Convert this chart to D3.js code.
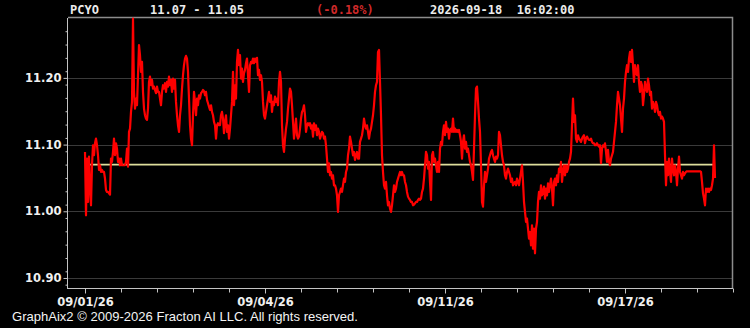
<!DOCTYPE html>
<html>
<head>
<meta charset="utf-8">
<script src="https://cdn.jsdelivr.net/npm/d3@7"></script>
<style>
  html, body { margin: 0; padding: 0; background: #000; }
  svg { display: block; }
</style>
</head>
<body>
<svg id="chart" width="750" height="328"></svg>
<script>
// quote header
const symbol = "PCYO";
const openPrice = 11.07;
const lastPrice = 11.05;
const changeText = "(-0.18%)";
const stampText = "2026-09-18  16:02:00";
const footerText = "GraphAix2 \u00A9 2009-2026 Fracton AI LLC. All rights reserved.";

// axes
const yTicks = [10.90, 11.00, 11.10, 11.20];
const dateLabels = ["09/01/26", "09/04/26", "09/11/26", "09/17/26"];
const dateTickSlots = [0, 5, 10, 15];
const slotCount = 18;
const samplesPerSlot = 36;

// price samples
const prices = [
  11.089,10.994,11.079,11.014,11.082,11.034,11.009,11.069,11.099,11.084,
  11.102,11.109,11.099,11.084,11.062,11.069,11.059,11.062,11.059,11.059,
  11.049,11.032,11.029,11.029,11.027,11.025,11.079,11.074,11.089,11.109,
  11.084,11.102,11.094,11.074,11.079,11.069,11.079,11.069,11.069,11.069,
  11.069,11.074,11.094,11.067,11.119,11.124,11.149,11.164,11.289,11.179,
  11.154,11.169,11.159,11.204,11.249,11.234,11.209,11.224,11.179,11.154,
  11.144,11.139,11.137,11.154,11.194,11.202,11.189,11.197,11.184,11.187,
  11.182,11.177,11.187,11.179,11.179,11.169,11.159,11.179,11.189,11.184,
  11.192,11.179,11.194,11.187,11.202,11.189,11.197,11.179,11.199,11.184,
  11.197,11.164,11.144,11.129,11.119,11.144,11.159,11.184,11.204,11.219,
  11.229,11.233,11.229,11.209,11.169,11.129,11.109,11.099,11.144,11.179,
  11.164,11.144,11.169,11.159,11.174,11.169,11.177,11.179,11.182,11.18,
  11.174,
  11.179,11.167,11.162,11.157,11.152,11.159,11.149,11.144,11.134,11.129,
  11.109,11.129,11.132,11.129,11.129,11.144,11.149,11.139,11.117,11.134,
  11.144,11.119,11.129,11.109,11.124,11.144,11.164,11.209,11.159,11.189,
  11.169,11.224,11.242,11.219,11.234,11.199,11.214,11.194,11.207,11.212,
  11.222,11.229,11.204,11.179,11.219,11.224,11.222,11.229,11.222,11.229,
  11.224,11.23,11.204,11.212,11.197,11.204,11.194,11.164,11.144,11.139,
  11.149,11.159,11.169,11.179,11.164,11.174,11.149,11.164,11.159,11.172,
  11.164,11.169,11.159,11.194,11.209,11.194,11.129,11.099,11.089,11.109,
  11.124,11.134,11.154,11.169,11.184,11.179,11.159,11.134,11.109,11.124,
  11.139,11.114,11.109,11.112,11.124,11.139,11.149,11.152,11.159,11.144,
  11.119,11.129,11.132,11.129,11.132,11.124,11.129,11.112,11.132,11.122,
  11.129,11.114,11.124,11.119,11.109,11.114,11.119,11.117,11.109,11.112,
  11.099,11.079,11.059,11.072,11.054,11.059,11.049,11.054,11.039,11.039,
  11.034,11.024,10.999,11.024,11.029,11.034,11.029,11.039,11.049,11.044,
  11.059,11.064,11.084,11.094,11.112,11.104,11.094,11.084,11.089,11.077,
  11.084,11.089,11.079,11.079,11.104,11.109,11.114,11.124,11.139,11.129,
  11.124,11.129,11.119,11.109,11.119,11.124,11.134,11.144,11.159,11.179,
  11.189,11.194,11.239,11.242,11.194,11.144,11.084,11.059,11.039,11.034,
  11.044,11.024,11.009,11.014,11.004,10.999,11.009,11.024,11.039,11.029,
  11.034,11.044,11.049,11.054,11.059,11.054,11.059,11.054,11.054,11.044,
  11.039,11.029,11.022,11.019,11.017,11.014,11.014,11.009,11.01,11.012,
  11.014,11.014,11.017,11.019,11.017,11.019,11.029,11.034,11.049,11.069,
  11.089,11.084,11.064,11.074,11.044,11.017,11.084,11.089,11.074,11.079,
  11.069,11.059,11.074,11.059,11.094,11.104,11.099,11.119,11.129,11.114,
  11.134,11.119,11.124,11.109,11.122,11.124,11.119,11.139,11.119,11.124,
  11.119,11.122,11.119,11.122,11.114,
  11.104,11.079,11.104,11.114,11.094,11.104,11.089,11.094,11.084,11.074,
  11.069,11.059,11.047,11.094,11.144,11.184,11.187,11.164,11.139,11.119,
  11.069,11.014,11.007,11.039,11.059,11.044,11.054,11.064,11.079,11.084,
  11.089,11.092,11.084,11.079,11.074,11.082,11.079,11.084,11.119,11.114,
  11.099,11.084,11.074,11.069,11.054,11.049,11.059,11.064,11.059,11.054,
  11.044,11.049,11.039,11.042,11.044,11.039,11.049,11.044,11.039,11.049,
  11.059,11.069,11.044,11.014,10.999,10.984,10.989,10.974,10.959,10.969,
  10.949,10.979,10.944,10.974,10.937,10.974,10.984,11.014,11.029,11.019,
  11.039,11.024,11.029,11.037,11.019,11.034,11.024,11.042,11.029,11.039,
  11.049,11.034,11.009,11.044,11.049,11.039,11.054,11.044,11.064,11.059,
  11.074,11.044,11.059,11.069,11.054,11.069,11.059,11.064,11.074,11.079,
  11.089,11.129,11.169,11.134,11.144,11.109,11.104,11.114,11.109,11.107,
  11.104,11.109,11.112,11.114,11.102,11.109,
  11.112,11.109,11.107,11.107,11.109,11.104,11.102,11.102,11.099,11.099,
  11.102,11.099,11.097,11.099,11.072,11.094,11.099,11.097,11.102,11.089,
  11.074,11.092,11.074,11.069,11.079,11.084,11.089,11.104,11.119,11.134,
  11.159,11.179,11.169,11.159,11.139,11.119,11.154,11.169,11.194,11.209,
  11.219,11.209,11.229,11.239,11.224,11.242,11.219,11.194,11.219,11.209,
  11.204,11.219,11.194,11.179,11.194,11.189,11.159,11.174,11.194,11.184,
  11.179,11.199,11.189,11.174,11.179,11.154,11.164,11.159,11.149,11.164,
  11.159,11.149,11.144,11.149,11.139,11.142,11.139,11.134,11.084,11.039,
  11.074,11.054,11.079,11.059,11.044,11.079,11.064,11.054,11.069,11.059,
  11.039,11.064,11.082,11.059,11.054,11.049,11.059,11.054,11.057,11.059,
  11.06,11.06,11.06,11.06,11.06,11.06,11.06,11.06,11.06,11.06,
  11.06,11.06,11.06,11.06,11.059,11.044,11.027,11.019,11.009,11.034,
  11.029,11.034,11.029,11.034,11.032,11.039,11.049,11.099,lastPrice
];

const svg = d3.select("#chart");
const plot = { left: 68, right: 733, top: 18, bottom: 288 };

const x = d3.scaleLinear().domain([0, slotCount]).range([85, plot.right]);
const y = d3.scaleLinear().domain([10.885, 11.2898]).range([plot.bottom, plot.top]);

svg.append("rect").attr("width", 750).attr("height", 328).attr("fill", "#000");

// horizontal grid
svg.append("g").selectAll("line").data(yTicks).join("line")
  .attr("x1", plot.left).attr("x2", plot.right - 1)
  .attr("y1", d => Math.round(y(d)) + 0.5).attr("y2", d => Math.round(y(d)) + 0.5)
  .attr("stroke", "#3a3a3a").attr("stroke-width", 1);

// frame top / right
svg.append("path")
  .attr("d", `M${plot.left},${plot.top - 0.5}H${plot.right - 0.5}V${plot.bottom}`)
  .attr("fill", "none").attr("stroke", "#8c8c8c").attr("stroke-width", 1.5);

// left axis
const minorY = d3.range(10.89, 11.29, 0.02).map(v => +v.toFixed(2));
const yMinor = svg.append("g").attr("transform", `translate(${plot.left - 0.5},0)`)
  .call(d3.axisLeft(y).tickValues(minorY).tickSize(2).tickSizeOuter(0).tickFormat(""));
const yMajor = svg.append("g").attr("transform", `translate(${plot.left - 0.5},0)`)
  .call(d3.axisLeft(y).tickValues(yTicks).tickSize(4).tickPadding(2).tickSizeOuter(0)
    .tickFormat(d3.format(".2f")));
yMajor.select(".domain").remove();
yMinor.select(".domain").attr("d", `M0,${plot.top}V${plot.bottom}`);
yMajor.selectAll("text")
  .attr("fill", "#f0f0f0")
  .style("font", "bold 11.5px 'DejaVu Sans', sans-serif");

// bottom axis
const xMinor = svg.append("g").attr("transform", `translate(0,${plot.bottom + 0.5})`)
  .call(d3.axisBottom(x).tickValues(d3.range(0, slotCount + 1)).tickSize(4).tickSizeOuter(0).tickFormat(""));
xMinor.select(".domain").attr("d", `M${plot.left - 1},0H${plot.right}`);
const xMajor = svg.append("g").attr("transform", `translate(0,${plot.bottom + 0.5})`)
  .call(d3.axisBottom(x).tickValues(dateTickSlots).tickSize(5).tickPadding(4)
    .tickFormat((d, i) => dateLabels[i]));
xMajor.select(".domain").remove();
xMajor.selectAll("text")
  .attr("fill", "#f0f0f0")
  .style("font", "bold 11.5px 'DejaVu Sans', sans-serif");

svg.selectAll(".tick line, .domain").attr("stroke", "#c4c4c4");

// open price reference
svg.append("line")
  .attr("x1", x(0)).attr("x2", x((prices.length - 1) / samplesPerSlot))
  .attr("y1", y(openPrice)).attr("y2", y(openPrice))
  .attr("stroke", "#dede9c").attr("stroke-width", 1.6);

// price line
const line = d3.line()
  .x((d, i) => x(i / samplesPerSlot))
  .y(d => y(d));

svg.append("path")
  .datum(prices)
  .attr("d", line)
  .attr("fill", "none")
  .attr("stroke", "#ff0000")
  .attr("stroke-width", 2.2)
  .attr("stroke-linejoin", "round");

// header
const head = svg.append("g")
  .style("font", "bold 12px 'DejaVu Sans Mono', monospace")
  .attr("fill", "#ececec");
head.append("text").attr("x", 70).attr("y", 13.5).text(symbol);
head.append("text").attr("x", 150).attr("y", 13.5)
  .text(`${openPrice.toFixed(2)} - ${lastPrice.toFixed(2)}`);
head.append("text").attr("x", 316).attr("y", 13.5).attr("fill", "#d02a2a").text(changeText);
head.append("text").attr("x", 430).attr("y", 13.5).attr("xml:space", "preserve")
  .style("white-space", "pre").text(stampText);

// footer
svg.append("text")
  .attr("x", 12).attr("y", 320.5)
  .attr("fill", "#f4f4f4")
  .attr("textLength", 346).attr("lengthAdjust", "spacingAndGlyphs")
  .style("font", "13px 'Liberation Sans Narrow', 'Liberation Sans', sans-serif")
  .text(footerText);
</script>
</body>
</html>
